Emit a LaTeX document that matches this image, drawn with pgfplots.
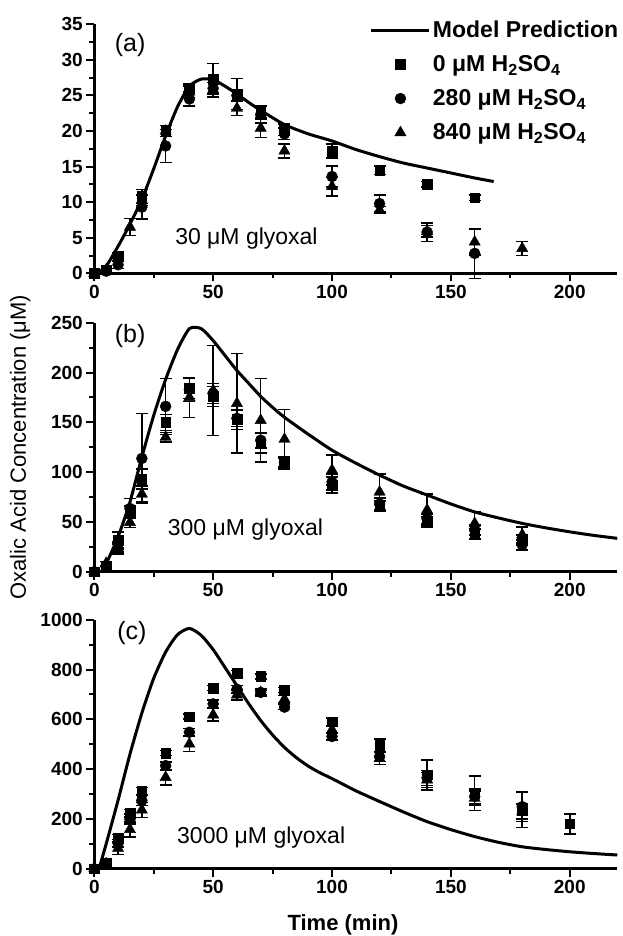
\documentclass[border=0pt]{standalone}
\usepackage{pgfplots}
\pgfplotsset{compat=1.18}
\usepackage{fontspec}
\setmainfont{Liberation Sans}

\tikzset{annot/.style={anchor=base, font=\fontsize{23}{26}\selectfont},
         plab/.style={anchor=base, font=\fontsize{25}{28}\selectfont}}
\pgfplotsset{
  panel/.style={
    width=523pt, height=249pt, scale only axis,
    xmin=0, xmax=220,
    axis x line*=bottom, axis y line*=left,
    axis line style={line width=2.5pt,-},
    every tick/.style={black, line width=2pt},
    tick align=outside,
    major tick length=8pt, minor tick length=5pt,
    xtick={0,50,...,200}, minor x tick num=1,
    minor y tick num=1,
    /pgf/number format/assume math mode=true,
    /pgf/number format/1000 sep={},
    ticklabel style={font=\bfseries\fontsize{19}{22}\selectfont},
    clip=false,
    anchor=south west,
  },
  model/.style={black, line width=3pt, smooth, tension=0.4, no marks},
  ebar/.style={error bars/.cd, y dir=both, y explicit,
    error bar style={line width=1.5pt, black},
    error mark options={rotate=90, mark size=6pt, line width=1.5pt, black}},
  sq/.style={black, only marks, mark=square*, mark size=4.8pt, ebar},
  ci/.style={black, only marks, mark=*, mark size=5.5pt, ebar},
  tr/.style={black, only marks, mark=triangle*, mark size=6.5pt, ebar},
}

\begin{document}
\begin{tikzpicture}[x=1pt,y=1pt]
% ---------------- (a) 30 uM glyoxal ----------------
\begin{axis}[panel, at={(94.3pt,-273.3pt)},
  ymin=0, ymax=35, ytick={0,5,...,35},
  legend cell align=left,
  legend image code/.code={\draw[mark repeat=2,mark phase=2,#1] plot coordinates {(0pt,0pt) (29pt,0pt) (58pt,0pt)};},
  legend style={at={(axis description cs:1.006,1.022)}, anchor=north east,
    draw=none, fill=none, font=\bfseries\fontsize{23}{26}\selectfont,
    row sep=12.5pt, inner xsep=0pt, inner ysep=0pt,
    /tikz/every even column/.append style={column sep=4pt}},
]
\addplot[model] coordinates {(1.5,0)(5,1.0)(10,3.8)(15,6.9)(20,10.4)(25,14.7)(30,19.3)(35,23.4)(40,26.3)(45,27.3)(50,27.2)(55,26.3)(60,25.2)(65,24.0)(70,22.9)(80,20.9)(90,19.6)(100,18.6)(110,17.4)(120,16.4)(130,15.5)(140,14.8)(150,14.1)(160,13.4)(168,12.9)};
\addlegendentry{Model Prediction}
\addplot[sq] table[x=t,y=v,y error=e] {
t v e
0 0 0
5 0.5 0
10 2.5 0.4
20 10.8 1.0
30 20.0 0.8
40 26.0 0.6
50 27.3 2.2
60 25.2 2.2
70 22.7 0.8
80 20.2 0.8
100 17.2 1.0
120 14.5 0.6
140 12.5 0.4
160 10.6 0.4
};
\addlegendentry{0 μM H\textsubscript{2}SO\textsubscript{4}}
\addplot[ci] table[x=t,y=v,y error=e] {
t v e
0 0 0
5 0.3 0
10 1.2 0.5
20 9.3 1.7
30 17.9 2.3
40 24.5 1.0
50 26.0 0.8
60 25.0 0.7
70 22.3 1.2
80 19.6 0.8
100 13.6 1.5
120 9.8 1.2
140 5.8 1.3
160 2.8 3.5
};
\addlegendentry{280 μM H\textsubscript{2}SO\textsubscript{4}}
\addplot[tr] table[x=t,y=v,y error=e] {
t v e
0 0 0
5 0.5 0
10 2.2 0.5
15 6.5 1.2
20 10.3 0.8
30 20.0 0.8
40 25.5 0.8
50 25.8 1.0
60 23.2 1.0
70 20.4 1.3
80 17.2 1.0
100 12.2 1.3
120 8.9 0.5
140 5.9 0.8
160 4.4 1.8
180 3.5 1.0
};
\addlegendentry{840 μM H\textsubscript{2}SO\textsubscript{4}}
\node[plab] at (axis cs:15.1,31.2) {(a)};
\node[annot] at (axis cs:64,4.0) {30 μM glyoxal};
\end{axis}

% ---------------- (b) 300 uM glyoxal ----------------
\begin{axis}[panel, at={(94.3pt,-571.7pt)},
  ymin=0, ymax=250, ytick={0,50,...,250},
]
\addplot[model] coordinates {(3,0)(5,8)(10,35)(15,70)(20,115)(25,157)(30,193)(35,223)(40,244)(45,244)(50,232)(55,217)(60,202)(65,189)(70,176)(75,165)(80,155)(90,138)(100,122)(110,109)(120,97)(130,86)(140,77)(150,68)(160,60)(170,54)(180,48.5)(190,44)(200,40)(210,36.5)(220,33.5)};
\addplot[sq] table[x=t,y=v,y error=e] {
t v e
0 0 0
5 5 0
10 31.7 8
15 60 6
20 93 10
30 150 8
40 184 10
50 176 10
60 153 10
70 129 10
80 109 5
100 87 8
120 66 5
140 50 5
160 38 5
180 32 5
};
\addplot[ci] table[x=t,y=v,y error=e] {
t v e
0 0 0
5 5 0
10 23 5
15 63.5 10
20 113.7 45
30 166 28
40 183 12
50 179 10
60 154 8
70 132 8
80 110 5
100 90 8
120 68 6
140 53 5
160 42 5
180 27 5
};
\addplot[tr] table[x=t,y=v,y error=e] {
t v e
0 0 0
5 8.4 2
10 25 5
15 49.5 5
20 78 8
30 135 5
40 175 20
50 182 45
60 169 50
70 152 42
80 133 30
100 102 15
120 80 18
140 62 16
160 48.5 12
180 37 8
};
\node[plab] at (axis cs:15.1,230.5) {(b)};
\node[annot] at (axis cs:63.6,36.8) {300 μM glyoxal};
\node[rotate=90, anchor=center, font=\fontsize{22}{26}\selectfont] at (axis cs:-31.2,125) {Oxalic Acid Concentration (μM)};
\end{axis}

% ---------------- (c) 3000 uM glyoxal ----------------
\begin{axis}[panel, at={(94.3pt,-868.7pt)},
  ymin=0, ymax=1000, ytick={0,200,...,1000},
  xlabel={Time (min)},
  xlabel style={at={(axis description cs:0.4755,0)}, anchor=north, yshift=-42pt,
    font=\bfseries\fontsize{22}{26}\selectfont},
]
\addplot[model] coordinates {(2,0)(5,100)(10,275)(15,460)(20,625)(25,765)(30,870)(35,940)(40,965)(45,937)(50,880)(55,808)(60,735)(65,662)(70,595)(75,537)(80,487)(85,446)(90,412)(95,385)(100,362)(110,313)(120,270)(130,228)(140,189)(150,157)(160,129)(170,106)(180,88)(190,77)(200,68)(210,61)(220,55)};
\addplot[sq] table[x=t,y=v,y error=e] {
t v e
0 0 0
5 22 0
10 122 15
15 223 15
20 312 15
30 464 10
40 611 10
50 725 10
60 786 10
70 772 10
80 718 10
100 591 15
120 495 25
140 377 60
160 303 70
180 236 70
200 180 40
};
\addplot[ci] table[x=t,y=v,y error=e] {
t v e
0 0 0
5 20 0
10 102 15
15 199 20
20 274 20
30 414 15
40 548 15
50 662 15
60 721 15
70 708 10
80 649 10
100 531 15
120 450 20
140 365 30
160 290 30
180 249 60
};
\addplot[tr] table[x=t,y=v,y error=e] {
t v e
0 0 0
5 20 0
10 82 25
15 158 30
20 236 30
30 367 30
40 501 30
50 618 25
60 698 20
70 708 15
80 681 15
100 558 15
120 443 25
140 357 30
160 283 30
180 229 30
};
\node[plab] at (axis cs:15.8,920) {(c)};
\node[annot] at (axis cs:70.2,102) {3000 μM glyoxal};
\end{axis}

\pgfresetboundingbox
\path[use as bounding box] (0,0) rectangle (623,-936);
\end{tikzpicture}
\end{document}
